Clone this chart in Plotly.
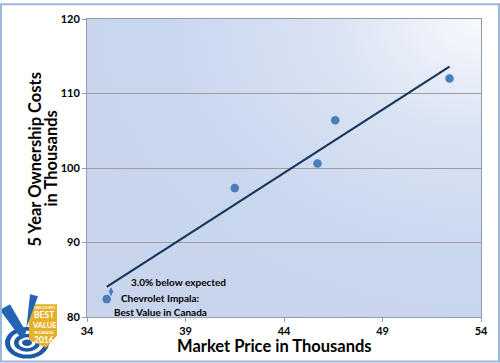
import base64
import numpy as np
import plotly.graph_objects as go

# ---- data ----
market_price = [35.0, 41.5, 45.7, 46.6, 52.4]
ownership_cost = [82.4, 97.3, 100.6, 106.4, 112.0]
x_ticks = [34, 39, 44, 49, 54]
y_ticks = [80, 90, 100, 110, 120]

# least-squares trend line over the data range
slope, intercept = np.polyfit(market_price, ownership_cost, 1)
trend_x = [min(market_price), max(market_price)]
trend_y = [slope * v + intercept for v in trend_x]

# plot-area geometry in pixels (for paper-coordinate decorations)
W, H = 500, 363
L, R, T, B = 87, 19, 16, 46
PW, PH = W - L - R, H - T - B


def px2paper(px, py):
    return (px - L) / PW, (H - B - py) / PH


fig = go.Figure()

fig.add_trace(go.Scatter(
    x=trend_x, y=trend_y, mode="lines",
    line=dict(color="#17375e", width=2.2), hoverinfo="skip", showlegend=False))

fig.add_trace(go.Scatter(
    x=market_price, y=ownership_cost, mode="markers",
    marker=dict(color="#4a7ebb", size=8.5), showlegend=False))

# gradient background for plot area
grad_svg = (
    '<svg xmlns="http://www.w3.org/2000/svg" width="394" height="301" viewBox="0 0 394 301" preserveAspectRatio="none">'
    '<defs><radialGradient id="g" cx="1" cy="0" r="1.1" gradientUnits="objectBoundingBox">'
    '<stop offset="0" stop-color="#f7f9fd"/><stop offset="0.35" stop-color="#dae3f3"/>'
    '<stop offset="0.75" stop-color="#c8d6ee"/><stop offset="1" stop-color="#c8d5ed"/>'
    '</radialGradient></defs><rect width="394" height="301" fill="url(#g)"/></svg>')
grad_uri = "data:image/svg+xml;base64," + base64.b64encode(grad_svg.encode()).decode()

# logo graphic (no text)
logo_svg = (
    '<svg xmlns="http://www.w3.org/2000/svg" width="58" height="68" viewBox="0 0 58 68" preserveAspectRatio="none">'
    '<ellipse cx="27" cy="51" rx="22" ry="16" fill="#1f5aa8"/>'
    '<ellipse cx="27" cy="51" rx="17" ry="12" fill="#ffffff"/>'
    '<ellipse cx="27" cy="51" rx="13" ry="9" fill="#1f5aa8"/>'
    '<ellipse cx="27" cy="51" rx="8.5" ry="5.5" fill="#ffffff"/>'
    '<ellipse cx="27" cy="51" rx="5" ry="3.2" fill="#1f5aa8"/>'
    '<polygon points="29,12 57,12 57,44 46,56 29,48" fill="#e5b02a"/>'
    '<polygon points="0,18 10,12 26,40 22,48" fill="#2563b4"/>'
    '<polygon points="22,48 26,40 30,2 38,4" fill="#2563b4"/>'
    '</svg>')
logo_uri = "data:image/svg+xml;base64," + base64.b64encode(logo_svg.encode()).decode()

lx0, ly0 = px2paper(0, 292)
fig.update_layout(images=[
    dict(source=grad_uri, xref="paper", yref="paper", x=0, y=1, sizex=1, sizey=1,
         sizing="stretch", layer="below"),
    dict(source=logo_uri, xref="paper", yref="paper", x=lx0, y=ly0,
         sizex=58 / PW, sizey=68 / PH, sizing="stretch", layer="above"),
])

# outer frame
fx0, fy0 = px2paper(1, 362)
fx1, fy1 = px2paper(499, 1)
fig.add_shape(type="rect", xref="paper", yref="paper", x0=fx0, y0=fy0, x1=fx1, y1=fy1,
              line=dict(color="#9cb6de", width=2))

font_b = "Lato"
ann = []


def text_at(px, py, txt, size, color="#000000", angle=0, anchor="center"):
    xp, yp = px2paper(px, py)
    ann.append(dict(x=xp, y=yp, xref="paper", yref="paper", text=txt, showarrow=False,
                    textangle=angle, xanchor=anchor, yanchor="middle", borderpad=0,
                    font=dict(family=font_b, size=size, color=color, weight="bold")))


# axis titles
text_at(274, 346, "Market Price in Thousands", 16.5)
text_at(35, 158, "5 Year Ownership Costs", 16.5, angle=-90)
text_at(51, 157, "in Thousands", 16.5, angle=-90)

# callout text
text_at(178, 282, "3.0% below expected", 10)
text_at(160, 298, "Chevrolet Impala:", 10)
text_at(160, 312, "Best Value in Canada", 10)

# logo text, stacked so that boxes touch but do not overlap
text_at(44, 307.5, "VANCOUVER'S", 3, color="#ffffff")
text_at(44, 315, "BEST", 8.5, color="#ffffff")
text_at(44, 325.5, "VALUE", 7.5, color="#ffffff")
text_at(44, 332.8, "IN CANADA", 3.5, color="#ffffff")
text_at(44, 340.5, "2016", 8.5, color="#ffffff")

# double-headed arrow between point and trend line
ann.append(dict(x=35.22, y=84.0, ax=35.22, ay=82.6, xref="x", yref="y", axref="x", ayref="y",
                text="", showarrow=True, arrowhead=2, startarrowhead=2, arrowside="end+start",
                arrowsize=0.8, arrowwidth=1.2, arrowcolor="#4a7ebb"))

fig.update_layout(annotations=ann)

fig.update_layout(
    width=W, height=H,
    margin=dict(l=L, r=R, t=T, b=B),
    paper_bgcolor="#ffffff",
    plot_bgcolor="rgba(0,0,0,0)",
    font=dict(family=font_b, color="#000000"),
    xaxis=dict(range=[34, 54], tickvals=x_ticks, ticks="outside", ticklen=4,
               tickcolor="#8e9bb0", showgrid=False, zeroline=False,
               showline=True, linecolor="#8e9bb0", linewidth=1, mirror=True,
               tickfont=dict(family=font_b, size=11, color="#000000", weight="bold")),
    yaxis=dict(range=[80, 120], tickvals=y_ticks, ticks="outside", ticklen=4,
               tickcolor="#8e9bb0", showgrid=True, gridcolor="#9e9e9e", gridwidth=1,
               zeroline=False, showline=True, linecolor="#8e9bb0", linewidth=1, mirror=True,
               tickfont=dict(family=font_b, size=11, color="#000000", weight="bold")),
)

fig.write_html("out.html", config={"displayModeBar": False},
               post_script="document.body.style.margin='0';document.body.style.overflow='hidden';")
